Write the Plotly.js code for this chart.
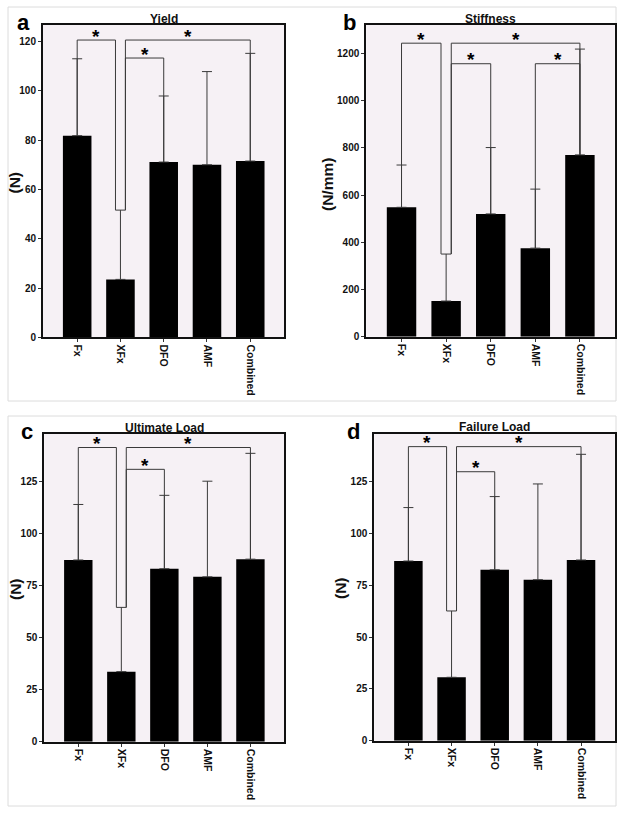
<!DOCTYPE html>
<html>
<head>
<meta charset="utf-8">
<script src="https://cdn.plot.ly/plotly-3.0.1.min.js"></script>
<style>html,body{margin:0;padding:0;background:#fff;}#chart{width:624px;height:814px;}</style>
</head>
<body>
<div id="chart"></div>
<script>
// ---- data ----
const categories = ["Fx", "XFx", "DFO", "AMF", "Combined"];

const yieldMean  = [81.8, 23.5, 71.1, 70.0, 71.5];
const yieldUpper = [113.0, 51.6, 97.9, 107.8, 115.2];
const yieldBrackets = [[0, 1, 120.6], [1, 4, 120.6], [1, 2, 113.3]];

const stiffMean  = [548, 151, 520, 375, 770];
const stiffUpper = [727, 350, 801, 625, 1218];
const stiffBrackets = [[0, 1, 1243], [1, 4, 1243], [1, 2, 1156], [3, 4, 1156]];

const ultMean  = [87.4, 33.7, 83.2, 79.3, 87.8];
const ultUpper = [114.1, 64.6, 118.5, 125.3, 138.7];
const ultBrackets = [[0, 1, 141.5], [1, 4, 141.5], [1, 2, 131.0]];

const failMean  = [86.7, 30.6, 82.5, 77.7, 87.2];
const failUpper = [112.5, 62.6, 117.8, 123.9, 138.2];
const failBrackets = [[0, 1, 141.9], [1, 4, 141.9], [1, 2, 129.8]];

const panelTitles = ["Yield", "Stiffness", "Ultimate Load", "Failure Load"];
const panelLetters = ["a", "b", "c", "d"];
const yTitles = ["(N)", "(N/mm)", "(N)", "(N)"];

// ---- layout helpers ----
const W = 624, H = 814;
const px = v => v / W;
const py = v => 1 - v / H;
const FONT = "Liberation Sans, Arial, sans-serif";
const NOTCH_IDX = 1;      // group with the split bracket
const NOTCH = 0.115;      // half-width of split, in category units
const LINE = "#3a3a3a";

const panels = [
  {mean: yieldMean, upper: yieldUpper, br: yieldBrackets, range: [0, 126.7], dtick: 20,
   box: [43, 284, 25, 337.3], title: [19.4], letter: [23.5, 23], ytitle: [14, 182.5]},
  {mean: stiffMean, upper: stiffUpper, br: stiffBrackets, range: [0, 1320], dtick: 200,
   box: [366.3, 614.7, 25, 336.7], title: [19.4], letter: [349.5, 23], ytitle: [327, 185]},
  {mean: ultMean, upper: ultUpper, br: ultBrackets, range: [0, 148], dtick: 25,
   box: [44.3, 284, 434, 741.7], title: [428.4], letter: [27, 431], ytitle: [15, 589]},
  {mean: failMean, upper: failUpper, br: failBrackets, range: [0, 148], dtick: 25,
   box: [374.3, 614.7, 434, 740.7], title: [427.5], letter: [353.5, 431], ytitle: [340, 588]}
];

const traces = [];
const shapes = [];
const annotations = [];
const layout = {
  width: W, height: H, autosize: false,
  margin: {l: 0, r: 0, t: 0, b: 0},
  paper_bgcolor: "#ffffff",
  plot_bgcolor: "#f6f1f5",
  showlegend: false,
  bargap: 0.34,
  font: {family: FONT, color: "#111"}
};

// outer light frames
[[8, 616, 7, 401], [8, 616, 416, 806]].forEach(f => {
  shapes.push({type: "rect", xref: "paper", yref: "paper", x0: px(f[0]), x1: px(f[1]),
    y0: py(f[3]), y1: py(f[2]), line: {color: "#dcdcdc", width: 1}, fillcolor: "rgba(0,0,0,0)", layer: "below"});
});

const xs = categories.map((c, i) => i);

panels.forEach((p, k) => {
  const n = k + 1;
  const xa = "x" + (n === 1 ? "" : n), ya = "y" + (n === 1 ? "" : n);
  const xKey = "xaxis" + (n === 1 ? "" : n), yKey = "yaxis" + (n === 1 ? "" : n);
  traces.push({
    type: "bar", x: xs, y: p.mean, xaxis: xa, yaxis: ya,
    marker: {color: "#000", line: {width: 0}},
    error_y: {type: "data", symmetric: false,
      array: p.upper.map((u, i) => u - p.mean[i]),
      arrayminus: p.mean.map(() => 0),
      color: LINE, thickness: 1, width: 5},
    hoverinfo: "skip"
  });
  const [l, r, t, b] = p.box;
  layout[xKey] = {
    domain: [px(l), px(r)], anchor: ya, range: [-0.79, 4.78],
    tickmode: "array", tickvals: xs, ticktext: categories, tickangle: 90,
    ticks: "outside", ticklen: 3, tickcolor: "#333", tickwidth: 1,
    showline: true, linecolor: "#111", linewidth: 2, mirror: true,
    showgrid: false, zeroline: false,
    tickfont: {family: FONT, size: 10.5, color: "#111", weight: "bold"}
  };
  layout[yKey] = {
    domain: [py(b), py(t)], anchor: xa, range: p.range, dtick: p.dtick, tick0: 0,
    ticks: "outside", ticklen: 3, tickcolor: "#333", tickwidth: 1,
    showline: true, linecolor: "#111", linewidth: 2, mirror: true,
    showgrid: false, zeroline: false,
    tickfont: {family: FONT, size: 10, color: "#111", weight: "bold"}
  };
  // significance brackets
  p.br.forEach(([i, j, lev]) => {
    const xi = i === NOTCH_IDX ? i + NOTCH : i;
    const xj = j === NOTCH_IDX ? j - NOTCH : j;
    const bi = i === NOTCH_IDX ? p.upper[i] : p.mean[i];
    const bj = j === NOTCH_IDX ? p.upper[j] : p.mean[j];
    shapes.push({type: "path", xref: xa, yref: ya,
      path: `M ${xi},${bi} L ${xi},${lev} L ${xj},${lev} L ${xj},${bj}`,
      line: {color: LINE, width: 1}});
    annotations.push({xref: xa, yref: ya, x: (xi + xj) / 2, y: lev, text: "*",
      showarrow: false, xanchor: "center", yanchor: "middle", yshift: 4,
      font: {family: FONT, size: 19, color: "#000", weight: "bold"}});
  });
  // panel title
  annotations.push({xref: "paper", yref: "paper", x: px((l + r) / 2), y: py(p.title[0]),
    text: panelTitles[k], showarrow: false, xanchor: "center", yanchor: "middle",
    font: {family: FONT, size: 12, color: "#111", weight: "bold"}});
  // letter
  annotations.push({xref: "paper", yref: "paper", x: px(p.letter[0]), y: py(p.letter[1]),
    text: panelLetters[k], showarrow: false, xanchor: "center", yanchor: "middle",
    font: {family: FONT, size: 22, color: "#000", weight: "bold"}});
  // y title
  annotations.push({xref: "paper", yref: "paper", x: px(p.ytitle[0]), y: py(p.ytitle[1]),
    text: yTitles[k], showarrow: false, textangle: -90, xanchor: "center", yanchor: "middle",
    font: {family: FONT, size: 15.5, color: "#111", weight: "bold"}});
});

layout.shapes = shapes;
layout.annotations = annotations;

Plotly.newPlot("chart", traces, layout, {staticPlot: true, displayModeBar: false});
</script>
</body>
</html>
